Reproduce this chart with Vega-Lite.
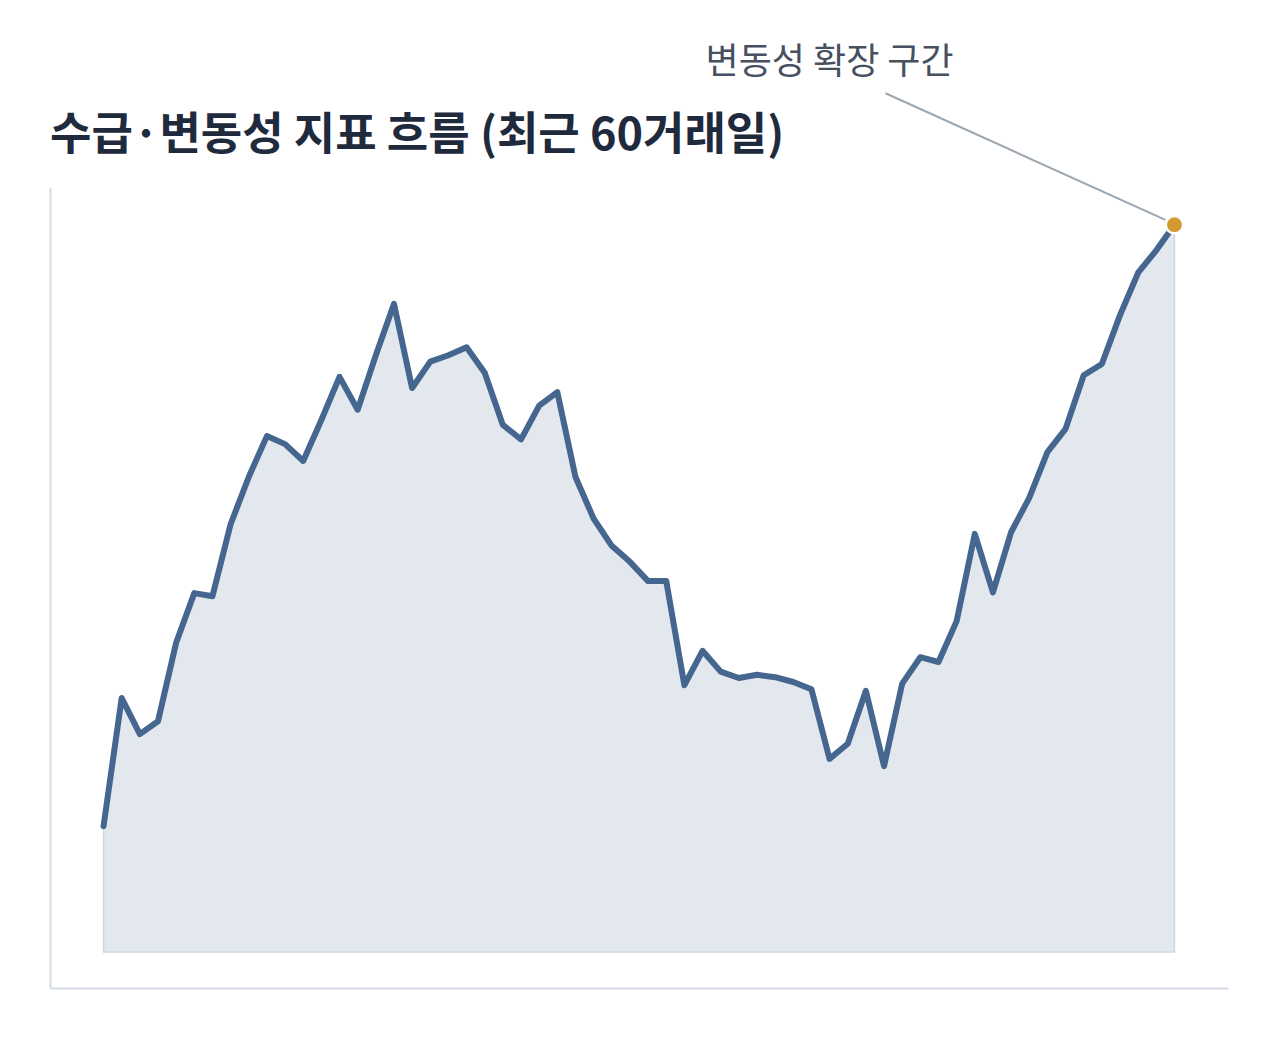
{
  "$schema": "https://vega.github.io/schema/vega-lite/v6.json",
  "width": 1178,
  "height": 801,
  "autosize": {"type": "none"},
  "padding": {"left": 50, "top": 187, "right": 50, "bottom": 51},
  "background": "white",
  "config": {"view": {"stroke": null}, "font": "Noto Sans CJK KR"},
  "title": {
    "text": "수급·변동성 지표 흐름 (최근 60거래일)",
    "anchor": "start",
    "frame": "group",
    "font": "Noto Sans CJK KR",
    "fontSize": 45,
    "fontWeight": "bold",
    "color": "#1f2a3d",
    "baseline": "alphabetic",
    "offset": 37,
    "dy": 187
  },
  "datasets": {
    "series": [
      {"day": 1, "value": 15.7}, {"day": 2, "value": 31.7}, {"day": 3, "value": 27.2},
      {"day": 4, "value": 28.8}, {"day": 5, "value": 38.6}, {"day": 6, "value": 44.8},
      {"day": 7, "value": 44.4}, {"day": 8, "value": 53.4}, {"day": 9, "value": 59.3},
      {"day": 10, "value": 64.4}, {"day": 11, "value": 63.4}, {"day": 12, "value": 61.3},
      {"day": 13, "value": 66.4}, {"day": 14, "value": 71.8}, {"day": 15, "value": 67.7},
      {"day": 16, "value": 74.5}, {"day": 17, "value": 80.9}, {"day": 18, "value": 70.4},
      {"day": 19, "value": 73.7}, {"day": 20, "value": 74.5}, {"day": 21, "value": 75.5},
      {"day": 22, "value": 72.3}, {"day": 23, "value": 65.8}, {"day": 24, "value": 64.0},
      {"day": 25, "value": 68.2}, {"day": 26, "value": 69.9}, {"day": 27, "value": 59.3},
      {"day": 28, "value": 54.1}, {"day": 29, "value": 50.7}, {"day": 30, "value": 48.7},
      {"day": 31, "value": 46.3}, {"day": 32, "value": 46.3}, {"day": 33, "value": 33.3},
      {"day": 34, "value": 37.6}, {"day": 35, "value": 35.0}, {"day": 36, "value": 34.2},
      {"day": 37, "value": 34.6}, {"day": 38, "value": 34.3}, {"day": 39, "value": 33.7},
      {"day": 40, "value": 32.8}, {"day": 41, "value": 24.1}, {"day": 42, "value": 26.0},
      {"day": 43, "value": 32.6}, {"day": 44, "value": 23.2}, {"day": 45, "value": 33.5},
      {"day": 46, "value": 36.8}, {"day": 47, "value": 36.2}, {"day": 48, "value": 41.3},
      {"day": 49, "value": 52.2}, {"day": 50, "value": 44.9}, {"day": 51, "value": 52.4},
      {"day": 52, "value": 56.7}, {"day": 53, "value": 62.4}, {"day": 54, "value": 65.3},
      {"day": 55, "value": 72.0}, {"day": 56, "value": 73.4}, {"day": 57, "value": 79.5},
      {"day": 58, "value": 84.8}, {"day": 59, "value": 87.6}, {"day": 60, "value": 90.8}
    ],
    "note": [
      {"day": 41, "value": 111, "label": "변동성 확장 구간", "fromDay": 44.08, "fromValue": 107.2, "toDay": 59.5, "toValue": 91.4}
    ]
  },
  "layer": [
    {
      "data": {"name": "series"},
      "mark": {"type": "area", "color": "#e3e8ee", "stroke": "#cfd7e1", "strokeWidth": 1.5},
      "encoding": {
        "x": {
          "field": "day", "type": "quantitative",
          "scale": {"domain": [-1.95, 62.95], "nice": false, "zero": false},
          "axis": {"title": null, "labels": false, "ticks": false, "grid": false, "domainColor": "#d6dde6", "domainWidth": 2}
        },
        "y": {
          "field": "value", "type": "quantitative",
          "scale": {"domain": [-4.5, 95.5], "nice": false, "zero": false},
          "axis": {"title": null, "labels": false, "ticks": false, "grid": false, "domainColor": "#d6dde6", "domainWidth": 2}
        },
        "y2": {"datum": 0}
      }
    },
    {
      "data": {"name": "series"},
      "mark": {"type": "line", "color": "#45668e", "strokeWidth": 6, "strokeJoin": "round", "strokeCap": "round"},
      "encoding": {
        "x": {"field": "day", "type": "quantitative"},
        "y": {"field": "value", "type": "quantitative"}
      }
    },
    {
      "data": {"name": "note"},
      "mark": {"type": "rule", "color": "#9ba6b3", "strokeWidth": 2},
      "encoding": {
        "x": {"field": "fromDay", "type": "quantitative"},
        "y": {"field": "fromValue", "type": "quantitative"},
        "x2": {"field": "toDay"},
        "y2": {"field": "toValue"}
      }
    },
    {
      "data": {"name": "series"},
      "transform": [{"filter": "datum.day == 60"}],
      "mark": {"type": "point", "filled": true, "size": 300, "fill": "#d39a32", "stroke": "white", "strokeWidth": 2.5, "opacity": 1},
      "encoding": {
        "x": {"field": "day", "type": "quantitative"},
        "y": {"field": "value", "type": "quantitative"}
      }
    },
    {
      "data": {"name": "note"},
      "mark": {"type": "text", "align": "center", "baseline": "middle", "font": "Noto Sans CJK KR", "fontSize": 36, "color": "#46505f"},
      "encoding": {
        "x": {"field": "day", "type": "quantitative"},
        "y": {"field": "value", "type": "quantitative"},
        "text": {"field": "label"}
      }
    }
  ]
}
